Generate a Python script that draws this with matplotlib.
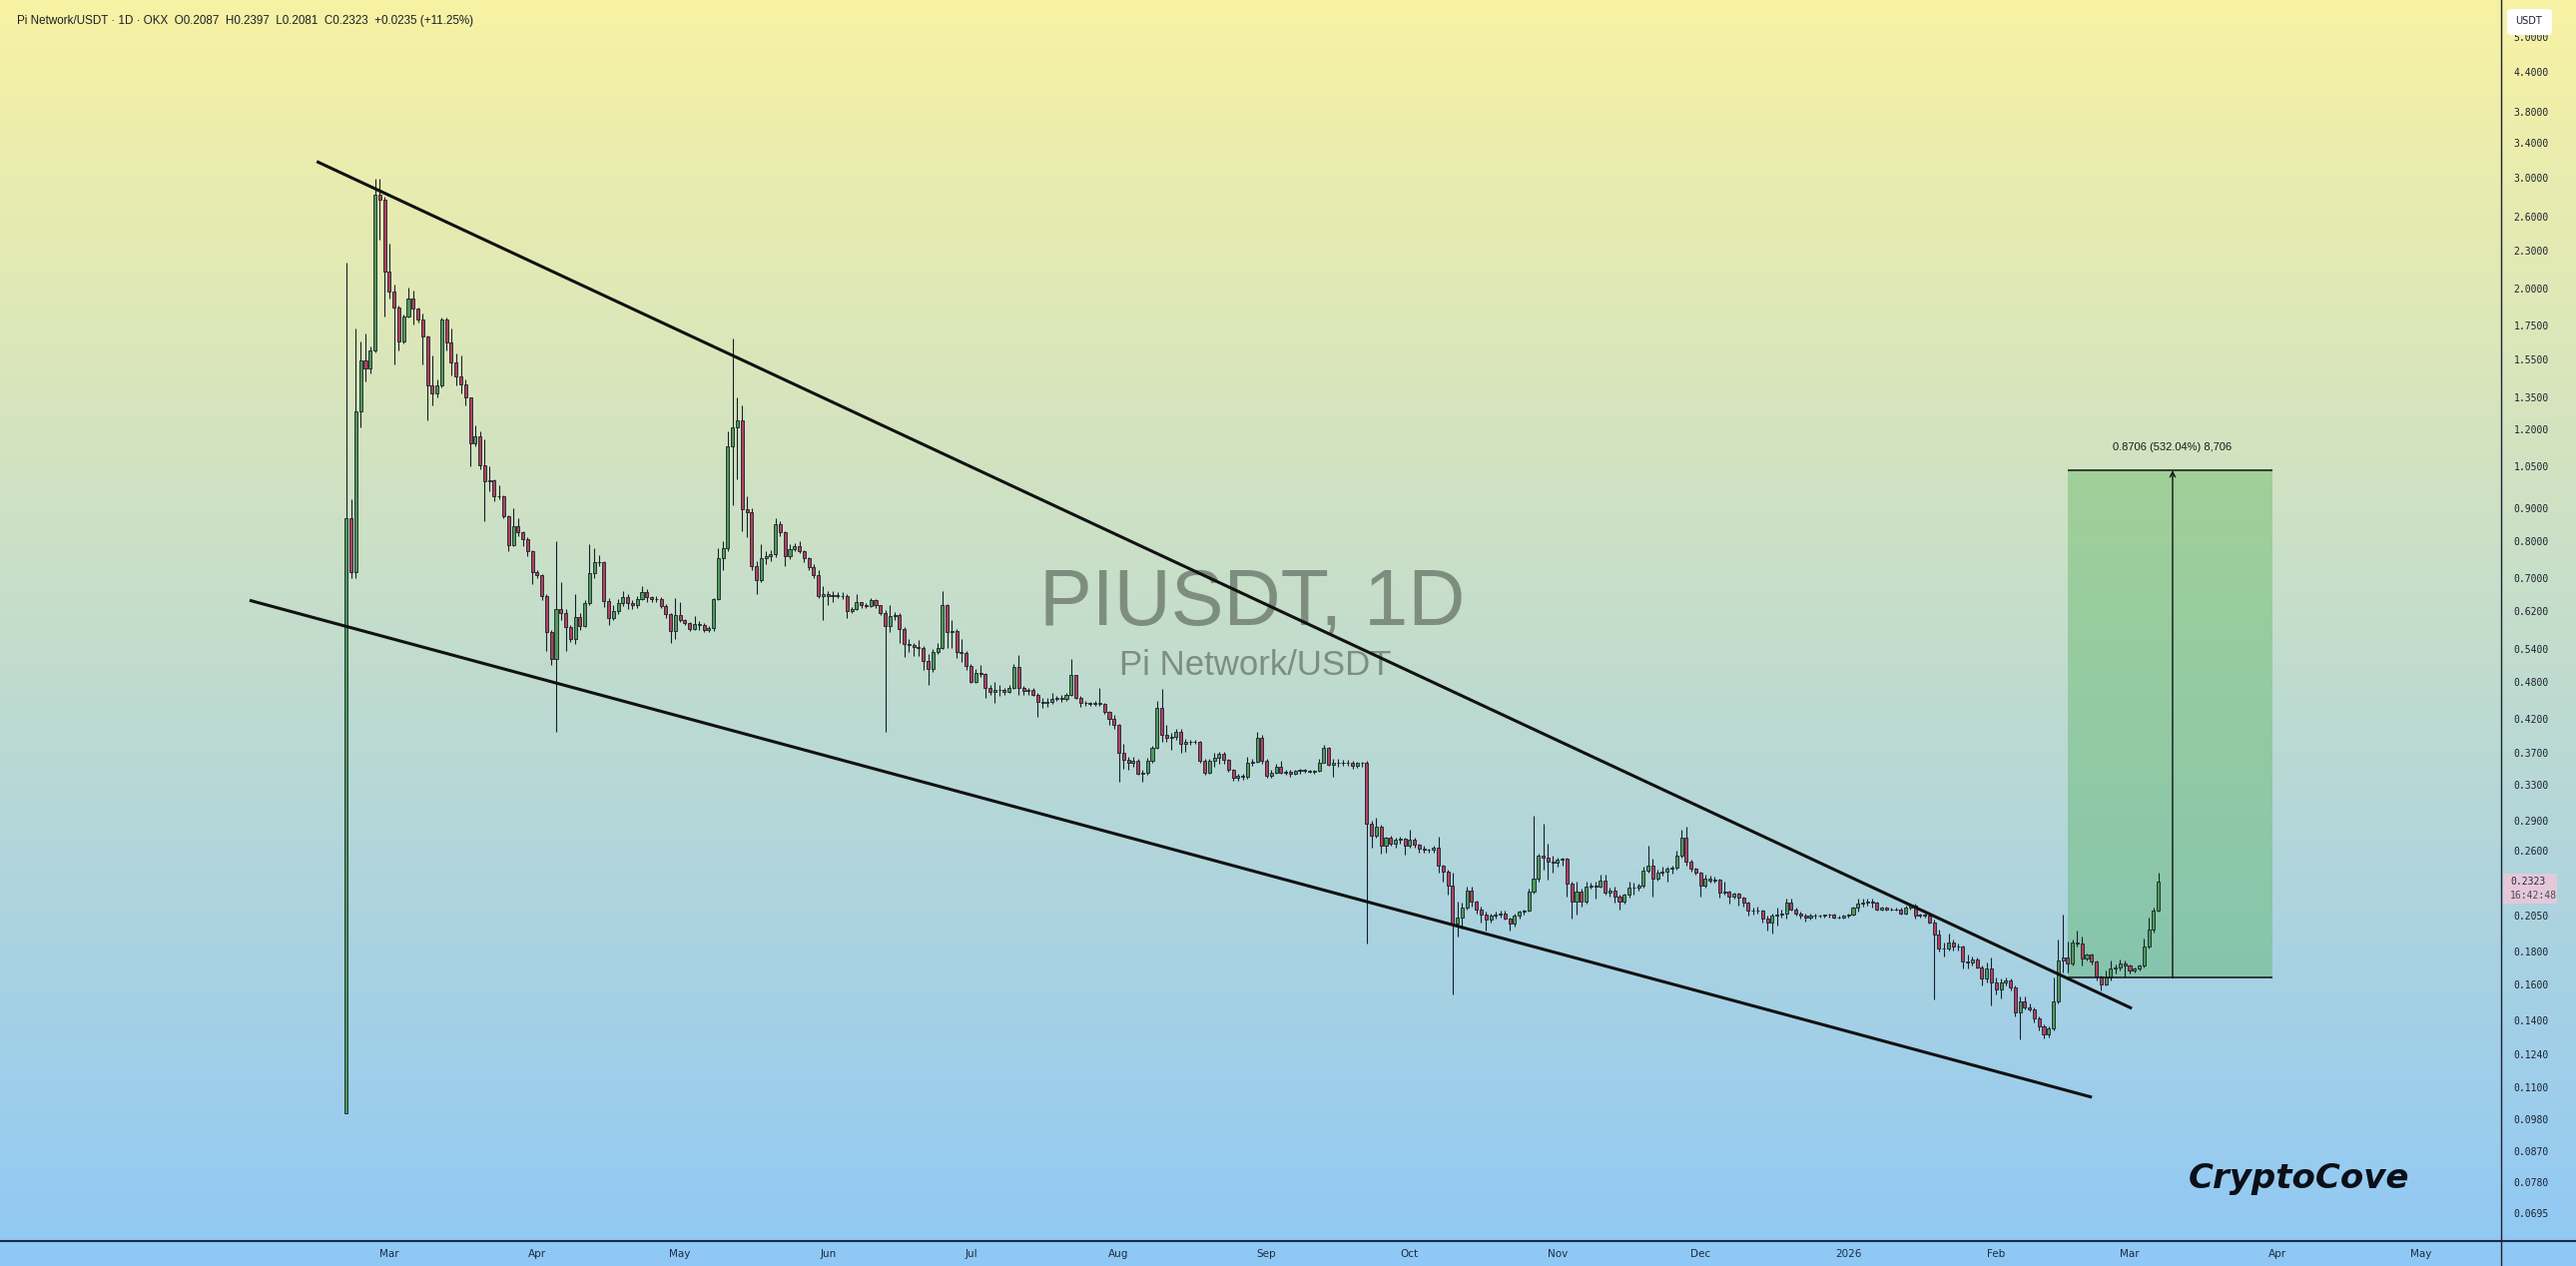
import matplotlib.pyplot as plt
import matplotlib.dates as mdates
import numpy as np
import pandas as pd
from matplotlib.lines import Line2D
from matplotlib.patches import Rectangle, FancyBboxPatch
from matplotlib.ticker import FuncFormatter, NullLocator

# daily candles PI/USDT, first candle 2025-02-20 (open = previous close)
first_day = '2025-02-20'
first_open = 0.100

close = [
    0.87, 0.714, 1.28, 1.54, 1.50, 1.60, 2.82, 2.77, 2.13, 1.98,
    1.87, 1.65, 1.81, 1.93, 1.86, 1.79, 1.68, 1.41, 1.37, 1.41,
    1.79, 1.645, 1.53, 1.455, 1.414, 1.347, 1.143, 1.17, 1.053, 0.995,
    0.998, 0.942, 0.94, 0.876, 0.788, 0.845, 0.825, 0.805, 0.772, 0.714,
    0.707, 0.656, 0.575, 0.521, 0.626, 0.617, 0.585, 0.56, 0.608, 0.587,
    0.638, 0.712, 0.74, 0.742, 0.644, 0.604, 0.62, 0.638, 0.652, 0.638,
    0.633, 0.648, 0.664, 0.652, 0.648, 0.647, 0.632, 0.614, 0.577, 0.612,
    0.601, 0.594, 0.581, 0.592, 0.59, 0.58, 0.583, 0.648, 0.751, 0.78,
    1.13, 1.21, 1.24, 0.897, 0.89, 0.731, 0.693, 0.753, 0.757, 0.762,
    0.85, 0.827, 0.757, 0.777, 0.786, 0.772, 0.751, 0.729, 0.708, 0.656,
    0.66, 0.655, 0.657, 0.655, 0.656, 0.62, 0.626, 0.64, 0.634, 0.632,
    0.645, 0.633, 0.617, 0.587, 0.61, 0.612, 0.582, 0.55, 0.548, 0.544,
    0.543, 0.518, 0.503, 0.534, 0.543, 0.634, 0.575, 0.577, 0.534, 0.533,
    0.509, 0.479, 0.495, 0.494, 0.469, 0.463, 0.465, 0.466, 0.462, 0.47,
    0.507, 0.47, 0.464, 0.466, 0.457, 0.446, 0.445, 0.446, 0.451, 0.452,
    0.45, 0.457, 0.491, 0.453, 0.445, 0.444, 0.443, 0.444, 0.443, 0.43,
    0.42, 0.41, 0.37, 0.361, 0.357, 0.36, 0.344, 0.345, 0.36, 0.378,
    0.436, 0.395, 0.392, 0.393, 0.40, 0.383, 0.385, 0.386, 0.385, 0.36,
    0.345, 0.36, 0.364, 0.369, 0.361, 0.349, 0.339, 0.341, 0.34, 0.358,
    0.359, 0.392, 0.36, 0.341, 0.345, 0.352, 0.345, 0.346, 0.344, 0.347,
    0.348, 0.347, 0.346, 0.347, 0.358, 0.377, 0.355, 0.357, 0.358, 0.358,
    0.357, 0.353, 0.357, 0.358, 0.286, 0.274, 0.283, 0.264, 0.272, 0.266,
    0.27, 0.271, 0.264, 0.27, 0.265, 0.262, 0.261, 0.261, 0.263, 0.246,
    0.241, 0.229, 0.199, 0.204, 0.211, 0.225, 0.216, 0.21, 0.206, 0.202,
    0.205, 0.206, 0.207, 0.203, 0.199, 0.205, 0.208, 0.209, 0.2235, 0.235,
    0.255, 0.253, 0.25, 0.249, 0.251, 0.252, 0.23, 0.216, 0.224, 0.216,
    0.228, 0.229, 0.228, 0.233, 0.223, 0.225, 0.22, 0.216, 0.221, 0.227,
    0.227, 0.229, 0.2416, 0.246, 0.235, 0.24, 0.241, 0.243, 0.244, 0.255,
    0.272, 0.25, 0.243, 0.24, 0.229, 0.235, 0.233, 0.234, 0.223, 0.224,
    0.22, 0.222, 0.219, 0.215, 0.209, 0.209, 0.209, 0.203, 0.20, 0.205,
    0.206, 0.207, 0.215, 0.21, 0.207, 0.205, 0.204, 0.205, 0.205, 0.205,
    0.206, 0.206, 0.204, 0.204, 0.205, 0.206, 0.211, 0.214, 0.215, 0.216,
    0.215, 0.21, 0.211, 0.21, 0.21, 0.21, 0.207, 0.211, 0.2125, 0.205,
    0.206, 0.205, 0.20, 0.1915, 0.182, 0.182, 0.186, 0.183, 0.183, 0.1735,
    0.173, 0.175, 0.17, 0.163, 0.169, 0.161, 0.157, 0.161, 0.162, 0.158,
    0.1443, 0.15, 0.147, 0.146, 0.141, 0.137, 0.133, 0.136, 0.150, 0.1745,
    0.176, 0.1726, 0.186, 0.185, 0.1757, 0.178, 0.1735, 0.1642, 0.160, 0.164,
    0.169, 0.170, 0.1726, 0.171, 0.168, 0.169, 0.171, 0.183, 0.195, 0.2087,
    0.2323,
]

high = [
    2.20, 0.931, 1.73, 1.65, 1.70, 1.62, 2.99, 2.98, 2.80, 2.36,
    2.03, 1.88, 1.82, 2.01, 1.99, 1.87, 1.83, 1.69, 1.57, 1.44,
    1.80, 1.80, 1.73, 1.58, 1.57, 1.44, 1.35, 1.22, 1.19, 1.16,
    1.048, 1.00, 0.98, 0.945, 0.88, 0.90, 0.87, 0.83, 0.81, 0.775,
    0.72, 0.71, 0.66, 0.58, 0.80, 0.69, 0.625, 0.59, 0.66, 0.615,
    0.645, 0.79, 0.78, 0.76, 0.745, 0.65, 0.634, 0.647, 0.667, 0.66,
    0.645, 0.655, 0.68, 0.672, 0.656, 0.655, 0.652, 0.636, 0.617, 0.65,
    0.64, 0.603, 0.597, 0.61, 0.598, 0.593, 0.587, 0.65, 0.78, 0.80,
    1.19, 1.67, 1.35, 1.31, 0.94, 0.90, 0.745, 0.79, 0.77, 0.775,
    0.87, 0.86, 0.83, 0.79, 0.795, 0.80, 0.775, 0.755, 0.735, 0.72,
    0.68, 0.668, 0.668, 0.665, 0.664, 0.66, 0.63, 0.66, 0.642, 0.638,
    0.65, 0.648, 0.635, 0.622, 0.635, 0.618, 0.615, 0.585, 0.56, 0.552,
    0.558, 0.546, 0.53, 0.54, 0.553, 0.668, 0.636, 0.60, 0.582, 0.56,
    0.536, 0.512, 0.503, 0.51, 0.496, 0.474, 0.48, 0.475, 0.47, 0.475,
    0.512, 0.528, 0.472, 0.47, 0.47, 0.46, 0.452, 0.452, 0.46, 0.455,
    0.457, 0.46, 0.522, 0.492, 0.455, 0.447, 0.446, 0.447, 0.47, 0.445,
    0.432, 0.425, 0.412, 0.383, 0.365, 0.365, 0.362, 0.348, 0.364, 0.38,
    0.448, 0.468, 0.41, 0.398, 0.405, 0.405, 0.39, 0.389, 0.388, 0.387,
    0.362, 0.362, 0.37, 0.372, 0.372, 0.362, 0.35, 0.343, 0.343, 0.365,
    0.362, 0.40, 0.396, 0.362, 0.349, 0.356, 0.36, 0.348, 0.348, 0.349,
    0.35, 0.35, 0.349, 0.348, 0.362, 0.381, 0.379, 0.362, 0.362, 0.361,
    0.361, 0.36, 0.359, 0.359, 0.36, 0.29, 0.293, 0.285, 0.273, 0.274,
    0.272, 0.273, 0.272, 0.28, 0.272, 0.266, 0.264, 0.262, 0.264, 0.273,
    0.247, 0.242, 0.24, 0.216, 0.215, 0.228, 0.228, 0.217, 0.212, 0.208,
    0.207, 0.208, 0.209, 0.209, 0.204, 0.207, 0.209, 0.21, 0.226, 0.295,
    0.257, 0.286, 0.266, 0.255, 0.253, 0.253, 0.253, 0.232, 0.232, 0.226,
    0.232, 0.231, 0.232, 0.238, 0.238, 0.227, 0.228, 0.221, 0.222, 0.232,
    0.231, 0.23, 0.245, 0.264, 0.252, 0.242, 0.245, 0.245, 0.246, 0.26,
    0.28, 0.283, 0.251, 0.244, 0.241, 0.238, 0.237, 0.236, 0.235, 0.232,
    0.225, 0.223, 0.223, 0.22, 0.216, 0.211, 0.212, 0.21, 0.205, 0.207,
    0.211, 0.21, 0.218, 0.218, 0.211, 0.208, 0.207, 0.207, 0.207, 0.206,
    0.206, 0.207, 0.207, 0.205, 0.206, 0.207, 0.212, 0.218, 0.218, 0.218,
    0.218, 0.216, 0.212, 0.212, 0.211, 0.211, 0.211, 0.213, 0.214, 0.214,
    0.207, 0.207, 0.206, 0.202, 0.195, 0.186, 0.192, 0.188, 0.185, 0.184,
    0.178, 0.177, 0.176, 0.171, 0.173, 0.176, 0.164, 0.163, 0.164, 0.163,
    0.159, 0.153, 0.153, 0.149, 0.147, 0.142, 0.138, 0.137, 0.164, 0.188,
    0.206, 0.187, 0.188, 0.194, 0.19, 0.179, 0.179, 0.174, 0.165, 0.168,
    0.174, 0.172, 0.175, 0.174, 0.172, 0.17, 0.172, 0.189, 0.204, 0.211,
    0.2397,
]

low = [
    0.100, 0.70, 0.70, 1.21, 1.43, 1.47, 1.59, 2.39, 1.81, 1.93,
    1.52, 1.60, 1.64, 1.80, 1.76, 1.77, 1.52, 1.24, 1.31, 1.35,
    1.40, 1.60, 1.46, 1.41, 1.37, 1.31, 1.05, 1.13, 1.04, 0.86,
    0.96, 0.925, 0.931, 0.87, 0.77, 0.785, 0.815, 0.786, 0.757, 0.684,
    0.70, 0.645, 0.537, 0.51, 0.40, 0.60, 0.537, 0.555, 0.55, 0.58,
    0.585, 0.635, 0.70, 0.73, 0.63, 0.59, 0.60, 0.613, 0.632, 0.625,
    0.625, 0.628, 0.645, 0.64, 0.642, 0.64, 0.628, 0.604, 0.553, 0.56,
    0.597, 0.59, 0.578, 0.579, 0.58, 0.574, 0.575, 0.578, 0.645, 0.72,
    0.77, 0.91, 1.00, 0.83, 0.81, 0.72, 0.66, 0.69, 0.735, 0.745,
    0.755, 0.815, 0.73, 0.75, 0.77, 0.765, 0.74, 0.72, 0.70, 0.65,
    0.60, 0.635, 0.64, 0.65, 0.648, 0.604, 0.615, 0.622, 0.628, 0.628,
    0.63, 0.628, 0.612, 0.40, 0.575, 0.60, 0.552, 0.525, 0.535, 0.527,
    0.527, 0.50, 0.475, 0.497, 0.53, 0.54, 0.543, 0.543, 0.524, 0.515,
    0.50, 0.478, 0.477, 0.488, 0.453, 0.458, 0.445, 0.455, 0.458, 0.46,
    0.468, 0.458, 0.458, 0.458, 0.455, 0.423, 0.436, 0.438, 0.443, 0.447,
    0.446, 0.447, 0.455, 0.45, 0.438, 0.44, 0.44, 0.44, 0.44, 0.427,
    0.41, 0.405, 0.334, 0.35, 0.348, 0.352, 0.342, 0.333, 0.342, 0.358,
    0.376, 0.386, 0.385, 0.375, 0.388, 0.37, 0.372, 0.381, 0.383, 0.357,
    0.342, 0.343, 0.352, 0.356, 0.356, 0.346, 0.335, 0.335, 0.336, 0.337,
    0.354, 0.357, 0.356, 0.338, 0.338, 0.343, 0.343, 0.342, 0.34, 0.342,
    0.344, 0.345, 0.345, 0.343, 0.346, 0.357, 0.353, 0.34, 0.352, 0.353,
    0.354, 0.35, 0.351, 0.352, 0.185, 0.263, 0.272, 0.257, 0.258, 0.264,
    0.263, 0.266, 0.256, 0.263, 0.263, 0.258, 0.258, 0.258, 0.258, 0.24,
    0.232, 0.221, 0.154, 0.19, 0.196, 0.21, 0.212, 0.207, 0.20, 0.194,
    0.20, 0.203, 0.204, 0.202, 0.194, 0.197, 0.203, 0.206, 0.208, 0.222,
    0.232, 0.242, 0.234, 0.24, 0.245, 0.246, 0.22, 0.203, 0.206, 0.212,
    0.214, 0.226, 0.218, 0.227, 0.221, 0.22, 0.215, 0.21, 0.214, 0.219,
    0.221, 0.225, 0.227, 0.24, 0.22, 0.233, 0.237, 0.232, 0.239, 0.242,
    0.253, 0.246, 0.241, 0.238, 0.22, 0.227, 0.231, 0.231, 0.219, 0.221,
    0.214, 0.218, 0.213, 0.212, 0.205, 0.206, 0.207, 0.20, 0.194, 0.192,
    0.198, 0.204, 0.203, 0.209, 0.205, 0.203, 0.201, 0.202, 0.203, 0.204,
    0.204, 0.204, 0.203, 0.203, 0.203, 0.204, 0.205, 0.208, 0.212, 0.213,
    0.211, 0.209, 0.209, 0.209, 0.209, 0.209, 0.206, 0.206, 0.21, 0.203,
    0.204, 0.204, 0.199, 0.151, 0.18, 0.177, 0.181, 0.181, 0.181, 0.169,
    0.169, 0.171, 0.169, 0.159, 0.161, 0.148, 0.154, 0.152, 0.159, 0.156,
    0.142, 0.131, 0.146, 0.145, 0.139, 0.135, 0.1315, 0.132, 0.135, 0.149,
    0.167, 0.167, 0.171, 0.183, 0.171, 0.174, 0.172, 0.162, 0.156, 0.159,
    0.162, 0.166, 0.168, 0.164, 0.166, 0.167, 0.168, 0.170, 0.182, 0.193,
    0.2081,
]

price_ticks = [5.0, 4.4, 3.8, 3.4, 3.0, 2.6, 2.3, 2.0, 1.75, 1.55, 1.35, 1.2,
               1.05, 0.9, 0.8, 0.7, 0.62, 0.54, 0.48, 0.42, 0.37, 0.33, 0.29,
               0.26, 0.205, 0.18, 0.16, 0.14, 0.124, 0.11, 0.098, 0.087,
               0.078, 0.0695]

month_ticks = ['2025-03-01', '2025-04-01', '2025-05-01', '2025-06-01', '2025-07-01',
               '2025-08-01', '2025-09-01', '2025-10-01', '2025-11-01', '2025-12-01',
               '2026-01-01', '2026-02-01', '2026-03-01', '2026-04-01', '2026-05-01']
month_labels = ['Mar', 'Apr', 'May', 'Jun', 'Jul', 'Aug', 'Sep', 'Oct', 'Nov', 'Dec',
                '2026', 'Feb', 'Mar', 'Apr', 'May']

# falling wedge trend lines
upper_dates = ['2025-02-13 19:00', '2026-03-01 11:00']
upper_prices = [3.178, 0.1464]
lower_dates = ['2025-01-30 17:00', '2026-02-21 02:00']
lower_prices = [0.645, 0.106]

# long position / target box
box_start = '2026-02-16 02:00'
box_end = '2026-03-31'
arrow_date = '2026-03-10'
box_bottom = 0.16363
box_top = 1.0342
box_label = '0.8706 (532.04%) 8,706'

header = ('Pi Network/USDT \u00b7 1D \u00b7 OKX  O0.2087  H0.2397  L0.2081  '
          'C0.2323  +0.0235 (+11.25%)')

W, H = 2580, 1268
fig = plt.figure(figsize=(W / 100, H / 100), dpi=100)

# yellow -> blue background over the whole picture
bg = fig.add_axes([0, 0, 1, 1])
bg.set_zorder(-10)
top_c = np.array([248, 242, 163]) / 255
bot_c = np.array([143, 200, 246]) / 255
t = np.linspace(0, 1, 512)[:, None, None]
grad = top_c * (1 - t) + bot_c * t
bg.imshow(np.repeat(grad, 2, axis=1), aspect='auto', extent=[0, 1, 0, 1])
bg.axis('off')

ax = fig.add_axes([4 / W, 25 / H, 2501 / W, 1243 / H])
ax.set_facecolor('none')
ax.set_yscale('log')
ax.set_ylim(0.06286, 5.715)

day0 = mdates.date2num(pd.Timestamp(first_day))
ax.set_xlim(day0 - 71.8, day0 + 451.9)

x = mdates.date2num(pd.date_range(first_day, periods=len(close)))
c = np.array(close)
o = np.concatenate([[first_open], c[:-1]])
hi = np.maximum(np.array(high), np.maximum(o, c))
lo = np.minimum(np.array(low), np.minimum(o, c))
up = c >= o
edge = '#17202a'

ax.vlines(x, lo, hi, color=edge, lw=0.8, zorder=2)
bot = np.minimum(o, c)
hgt = np.abs(c - o)
ax.bar(x, hgt, bottom=bot, width=0.64,
       color=np.where(up, '#4f9a57', '#b2405e'),
       edgecolor=edge, linewidth=0.6, zorder=2.5)

# watermark
ax.text(0.4998, 0.4964, 'PIUSDT, 1D', transform=ax.transAxes, ha='center',
        va='baseline', fontsize=57, family='Liberation Sans', color='#7e8e7e',
        zorder=0.5)
ax.text(0.5010, 0.4559, 'Pi Network/USDT', transform=ax.transAxes, ha='center',
        va='baseline', fontsize=25, family='Liberation Sans', color='#7e8e7e',
        zorder=0.5)

# wedge
ax.plot(mdates.date2num(pd.to_datetime(upper_dates)), upper_prices,
        color='#111111', lw=2.2, zorder=3, solid_capstyle='butt')
ax.plot(mdates.date2num(pd.to_datetime(lower_dates)), lower_prices,
        color='#111111', lw=2.2, zorder=3, solid_capstyle='butt')

# target box
bx0 = mdates.date2num(pd.Timestamp(box_start))
bx1 = mdates.date2num(pd.Timestamp(box_end))
xa = mdates.date2num(pd.Timestamp(arrow_date))
ax.add_patch(Rectangle((bx0, box_bottom), bx1 - bx0, box_top - box_bottom,
                       facecolor='#4caf50', alpha=0.36, edgecolor='none', zorder=1))
ax.hlines([box_bottom, box_top], bx0, bx1, color='#111111', lw=1.1, zorder=3)
ax.annotate('', xy=(xa, box_top), xytext=(xa, box_bottom),
            arrowprops=dict(arrowstyle='->', lw=1.0, color='#111111',
                            shrinkA=0, shrinkB=0, mutation_scale=9), zorder=3)
ax.annotate(box_label, xy=(xa, box_top), xytext=(0, 17), textcoords='offset points',
            ha='center', va='center', fontsize=8, family='Liberation Sans',
            color='#1a1a1a')

# axes styling
for s in ax.spines.values():
    s.set_visible(False)
ax.yaxis.tick_right()
ax.set_yticks(price_ticks)
ax.yaxis.set_minor_locator(NullLocator())
ax.yaxis.set_major_formatter(FuncFormatter(lambda v, p: f'{v:.4f}'))
ax.tick_params(axis='y', length=0, pad=9, labelsize=7, labelcolor='#1b2030')
for lab in ax.get_yticklabels():
    lab.set_family('DejaVu Sans Mono')
ax.set_xticks(mdates.date2num(pd.to_datetime(month_ticks)))
ax.set_xticklabels(month_labels)
ax.xaxis.set_minor_locator(NullLocator())
ax.tick_params(axis='x', length=0, pad=6, labelsize=7.5, labelcolor='#1d2a46')

# frame lines across the whole picture
fig.add_artist(Line2D([0, 1], [1 - 1243 / H] * 2, color='#1b2a44', lw=1.5))
fig.add_artist(Line2D([2505 / W] * 2, [0, 1], color='#1b2433', lw=1.0))

# last price tag
fig.add_artist(Rectangle((2507 / W, 1 - 905 / H), 54 / W, 30 / H,
                         facecolor='#e4c8da', edgecolor='none'))
fig.text(2514 / W, 1 - 883 / H, '0.2323', ha='left', va='center', fontsize=7,
         family='DejaVu Sans Mono', color='#2a2a3a')
fig.text(2514 / W, 1 - 897 / H, '16:42:48', ha='left', va='center', fontsize=7,
         family='DejaVu Sans Mono', color='#4a4a5a')

# currency tag covering the top label
fig.add_artist(FancyBboxPatch((2511 / W, 1 - 35 / H), 45 / W, 26 / H,
                              boxstyle='round,pad=0,rounding_size=0.002',
                              facecolor='white', edgecolor='none', zorder=5))
fig.text(2533 / W, 1 - 21 / H, 'USDT', ha='center', va='center', fontsize=7,
         color='#1b2030', zorder=6)

fig.text(17 / W, 1 - 21 / H, header, ha='left', va='center', fontsize=8.4,
         family='Liberation Sans', color='#1b1f2b')

fig.text(2192 / W, 1 - 1190 / H, 'CryptoCove', ha='left', va='baseline',
         fontsize=24.5, fontweight='bold', style='italic', color='#0b0f17')

fig.savefig('out.png', dpi=100)
